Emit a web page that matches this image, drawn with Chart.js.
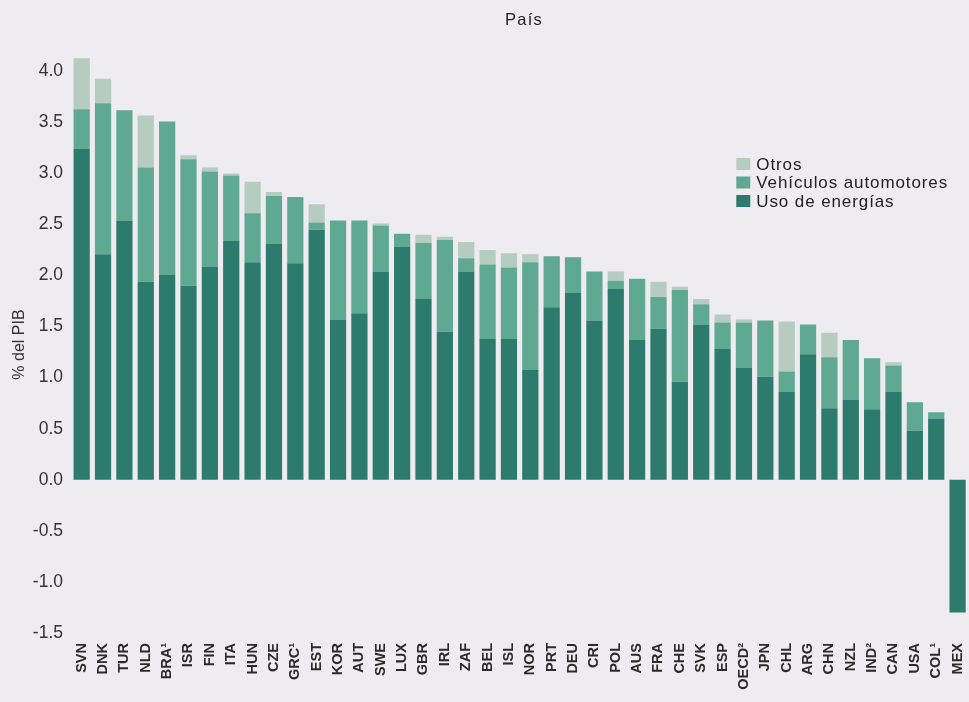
<!DOCTYPE html>
<html>
<head>
<meta charset="utf-8">
<script src="https://cdn.jsdelivr.net/npm/chart.js@4.4.1/dist/chart.umd.min.js"></script>
<style>
  html, body { margin: 0; padding: 0; background: #eeecf0; overflow: hidden; }
  #wrap { width: 975px; height: 702px; }
</style>
</head>
<body>
<div id="wrap"><canvas id="chart"></canvas></div>
<script>
const countries = ['SVN', 'DNK', 'TUR', 'NLD', 'BRA¹', 'ISR', 'FIN', 'ITA', 'HUN', 'CZE', 'GRC¹', 'EST', 'KOR', 'AUT',
	'SWE', 'LUX', 'GBR', 'IRL', 'ZAF', 'BEL', 'ISL', 'NOR', 'PRT', 'DEU', 'CRI', 'POL', 'AUS', 'FRA', 'CHE', 'SVK',
	'ESP', 'OECD²', 'JPN', 'CHL', 'ARG', 'CHN', 'NZL', 'IND²', 'CAN', 'USA', 'COL¹', 'MEX']

// % del PIB, one value per country
const energia = [3.24, 2.21, 2.54, 1.94, 2.01, 1.90, 2.09, 2.34, 2.13, 2.31, 2.12, 2.45, 1.57, 1.63,
	2.04, 2.28, 1.77, 1.45, 2.04, 1.38, 1.38, 1.08, 1.69, 1.83, 1.56, 1.87, 1.37, 1.48, 0.96, 1.52,
	1.28, 1.10, 1.01, 0.86, 1.23, 0.70, 0.78, 0.69, 0.86, 0.48, 0.60, -1.30]
const vehiculos = [0.39, 1.48, 1.08, 1.12, 1.50, 1.24, 0.93, 0.64, 0.48, 0.47, 0.65, 0.07, 0.97, 0.91,
	0.45, 0.13, 0.55, 0.90, 0.13, 0.73, 0.70, 1.05, 0.50, 0.35, 0.48, 0.08, 0.60, 0.31, 0.90, 0.20,
	0.26, 0.44, 0.55, 0.20, 0.29, 0.50, 0.59, 0.50, 0.26, 0.28, 0.06, 0]
const otros = [0.50, 0.24, 0, 0.51, 0, 0.04, 0.04, 0.02, 0.31, 0.04, 0, 0.18, 0, 0,
	0.02, 0, 0.08, 0.03, 0.16, 0.14, 0.14, 0.08, 0, 0, 0, 0.09, 0, 0.15, 0.03, 0.05,
	0.08, 0.03, 0, 0.49, 0, 0.24, 0, 0, 0.03, 0, 0, 0]

const yTicks = [-1.5, -1.0, -0.5, 0, 0.5, 1.0, 1.5, 2.0, 2.5, 3.0, 3.5, 4.0]

const FONT = "'Liberation Sans', Arial, sans-serif"
const BG = '#eeecf0'

// page background, heading and the legend box in the upper right
const decor = {
	id: 'decor',
	beforeDraw(chart) {
		const ctx = chart.ctx
		ctx.save()
		ctx.fillStyle = BG
		ctx.fillRect(0, 0, chart.width, chart.height)
		ctx.restore()
	},
	afterDraw(chart) {
		const ctx = chart.ctx
		const area = chart.chartArea
		ctx.save()
		ctx.fillStyle = '#222'
		ctx.font = '16.5px ' + FONT
		ctx.letterSpacing = '1.2px'
		ctx.textAlign = 'center'
		ctx.textBaseline = 'alphabetic'
		ctx.fillText('País', 524, 25)

		const sets = chart.data.datasets.slice().reverse()
		const x = area.right - 232
		let y = 164
		ctx.font = '17px ' + FONT
		ctx.textAlign = 'left'
		ctx.textBaseline = 'middle'
		ctx.letterSpacing = '0.9px'
		sets.forEach(ds => {
			ctx.fillStyle = ds.backgroundColor
			ctx.fillRect(x, y - 6, 14, 12)
			ctx.fillStyle = '#222'
			ctx.fillText(ds.label, x + 20, y + 1)
			y += 18.5
		})
		ctx.restore()
	}
}

const chart = new Chart(document.getElementById('chart'), {
	type: 'bar',
	data: {
		labels: countries,
		datasets: [
			{ label: 'Uso de energías', data: energia, backgroundColor: '#2d7b6c' },
			{ label: 'Vehículos automotores', data: vehiculos, backgroundColor: '#5fa891' },
			{ label: 'Otros', data: otros, backgroundColor: '#b6ccc1' }
		]
	},
	options: {
		responsive: true,
		maintainAspectRatio: false,
		animation: false,
		layout: { padding: { top: 46, right: 1, left: 0, bottom: 0 } },
		datasets: { bar: { barPercentage: 0.76, categoryPercentage: 1, borderWidth: 0 } },
		plugins: {
			legend: { display: false },
			title: { display: false },
			tooltip: { enabled: false }
		},
		scales: {
			x: {
				stacked: true,
				grid: { display: false, drawTicks: false },
				border: { display: false },
				afterFit(scale) { scale.height = 59 },
				ticks: {
					autoSkip: false,
					minRotation: 90,
					maxRotation: 90,
					padding: 0,
					color: '#2a2a2a',
					font: { family: FONT, size: 14.5, weight: 'bold' }
				}
			},
			y: {
				stacked: true,
				min: -1.6,
				max: 4.25,
				grid: { display: false, drawTicks: false },
				border: { display: false },
				afterFit(scale) { scale.width = 71 },
				afterBuildTicks(scale) { scale.ticks = yTicks.map(v => ({ value: v })) },
				ticks: {
					padding: 8,
					color: '#333',
					font: { family: FONT, size: 17.5 },
					callback: v => v.toFixed(1)
				},
				title: {
					display: true,
					text: '% del PIB',
					color: '#333',
					padding: { top: 10, bottom: 0 },
					font: { family: FONT, size: 16 }
				}
			}
		}
	},
	plugins: [decor]
})
</script>
</body>
</html>
